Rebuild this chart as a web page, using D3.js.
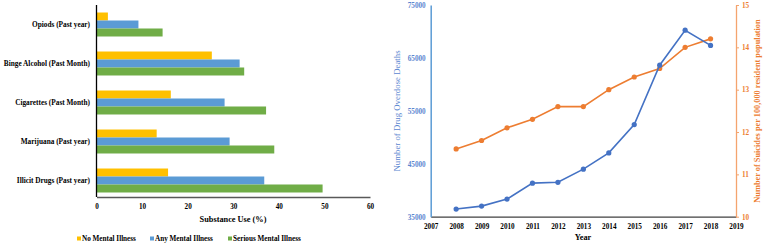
<!DOCTYPE html>
<html>
<head>
<meta charset="utf-8">
<script src="https://cdn.jsdelivr.net/npm/d3@7"></script>
<style>
  body { margin: 0; background: #fff; }
  text { font-family: "Liberation Serif", "Times New Roman", serif; font-weight: bold; }
</style>
</head>
<body>
<script>
// bar chart data
var substances = ["Opiods (Past year)", "Binge Alcohol (Past Month)", "Cigarettes (Past Month)", "Marijuana (Past year)", "Illicit Drugs (Past year)"];
var groups = ["No Mental Illness", "Any Mental Illness", "Serious Mental Illness"];
var noMI = [2.5, 25.3, 16.3, 13.2, 15.7];
var anyMI = [9.2, 31.4, 28.1, 29.2, 36.8];
var seriousMI = [14.5, 32.4, 37.2, 39.0, 49.6];
var useTicks = [0, 10, 20, 30, 40, 50, 60];

// line chart data
var years = [2008, 2009, 2010, 2011, 2012, 2013, 2014, 2015, 2016, 2017, 2018];
var deaths = [36450, 37004, 38329, 41340, 41502, 43982, 47055, 52404, 63632, 70237, 67367];
var suicideRate = [11.6, 11.8, 12.1, 12.3, 12.6, 12.6, 13.0, 13.3, 13.5, 14.0, 14.2];
var yearTicks = [2007, 2008, 2009, 2010, 2011, 2012, 2013, 2014, 2015, 2016, 2017, 2018, 2019];
var deathTicks = [35000, 45000, 55000, 65000, 75000];
var rateTicks = [10, 11, 12, 13, 14, 15];

var w = 764, h = 245;
var svg = d3.select("body").append("svg").attr("width", w).attr("height", h);

var barColors = ["#FFC000", "#5B9BD5", "#70AD47"];

// ---------- left: grouped horizontal bars ----------
var xScale = d3.scaleLinear().domain([0, 60]).range([96.5, 370]);
var yScale = d3.scaleBand().domain(substances).range([5, 200])
    .paddingInner(0.385).paddingOuter(0.1925);
var ySub = d3.scaleBand().domain(groups).range([0, yScale.bandwidth()]);

var rows = substances.map(function(s, i){
  return {name: s, vals: [noMI[i], anyMI[i], seriousMI[i]]};
});

var grp = svg.selectAll(".grp").data(rows).enter().append("g")
  .attr("class", "grp")
  .attr("transform", function(d){ return "translate(0," + yScale(d.name) + ")"; });

grp.selectAll("rect").data(function(d){ return d.vals.map(function(v, j){ return {g: groups[j], v: v, j: j}; }); })
  .enter().append("rect")
  .attr("x", xScale(0))
  .attr("y", function(d){ return ySub(d.g); })
  .attr("width", function(d){ return xScale(d.v) - xScale(0); })
  .attr("height", ySub.bandwidth())
  .attr("fill", function(d){ return barColors[d.j]; });

var xAxis = d3.axisBottom(xScale).tickValues(useTicks).tickSize(0).tickPadding(7);
var gx = svg.append("g").attr("transform", "translate(0,197)").call(xAxis);
gx.select(".domain").attr("stroke", "#595959").attr("stroke-width", 1.5);
gx.selectAll("text").attr("font-size", 7.2).attr("fill", "#000")
  .style("font-family", "Liberation Serif").style("font-weight", "bold");

svg.append("line").attr("x1", 96.5).attr("x2", 96.5).attr("y1", 5).attr("y2", 197)
  .attr("stroke", "#000").attr("stroke-width", 1.3);

svg.selectAll(".cat").data(substances).enter().append("text")
  .attr("class", "cat")
  .attr("x", 90)
  .attr("y", function(d){ return yScale(d) + yScale.bandwidth() / 2; })
  .attr("dy", "0.35em")
  .attr("text-anchor", "end")
  .attr("font-size", 7.3)
  .text(function(d){ return d; });

svg.append("text").attr("x", 233).attr("y", 222).attr("text-anchor", "middle")
  .attr("font-size", 8.3).text("Substance Use (%)");

var legX = [77, 150, 228];
var leg = svg.selectAll(".leg").data(groups).enter().append("g")
  .attr("class", "leg")
  .attr("transform", function(d, i){ return "translate(" + legX[i] + ",239)"; });
leg.append("rect").attr("x", 0).attr("y", -2.5).attr("width", 4).attr("height", 4)
  .attr("fill", function(d, i){ return barColors[i]; });
leg.append("text").attr("x", 5).attr("dy", "0.3em").attr("font-size", 7.2)
  .text(function(d){ return d; });

// ---------- right: dual axis line chart ----------
var xYear = d3.scaleLinear().domain([2007, 2019]).range([430.7, 736]);
var yDeaths = d3.scaleLinear().domain([35000, 75000]).range([216.7, 5]);
var yRate = d3.scaleLinear().domain([10, 15]).range([216.7, 5]);

var blue = "#4472C4", orange = "#ED7D31";

var bx = svg.append("g").attr("transform", "translate(0,216.7)")
  .call(d3.axisBottom(xYear).tickValues(yearTicks).tickFormat(d3.format("d")).tickSize(0).tickPadding(7));
bx.select(".domain").attr("stroke", "#404040").attr("stroke-width", 1.2);
bx.selectAll("text").attr("font-size", 7.2).attr("fill", "#000")
  .style("font-family", "Liberation Serif").style("font-weight", "bold");

var ly = svg.append("g").attr("transform", "translate(430.7,0)")
  .call(d3.axisLeft(yDeaths).tickValues(deathTicks).tickFormat(d3.format("d")).tickSize(0).tickPadding(5));
ly.select(".domain").attr("stroke", "#5B9BD5").attr("stroke-width", 1.5);
ly.selectAll("text").attr("font-size", 7.2).attr("fill", "#5B86D0")
  .style("font-family", "Liberation Serif").style("font-weight", "bold");

var ry = svg.append("g").attr("transform", "translate(736,0)")
  .call(d3.axisRight(yRate).tickValues(rateTicks).tickFormat(d3.format("d")).tickSize(3).tickSizeOuter(0).tickPadding(3));
ry.select(".domain").attr("stroke", "#F4A46E").attr("stroke-width", 1.3);
ry.selectAll(".tick line").attr("stroke", "#F4A46E");
ry.selectAll("text").attr("font-size", 7.2).attr("fill", orange)
  .style("font-family", "Liberation Serif").style("font-weight", "bold");

var lineDeaths = d3.line().x(function(d, i){ return xYear(years[i]); }).y(function(d){ return yDeaths(d); });
var lineRate = d3.line().x(function(d, i){ return xYear(years[i]); }).y(function(d){ return yRate(d); });

svg.append("path").datum(suicideRate).attr("d", lineRate)
  .attr("fill", "none").attr("stroke", orange).attr("stroke-width", 1.6);
svg.selectAll(".pr").data(suicideRate).enter().append("circle")
  .attr("class", "pr")
  .attr("cx", function(d, i){ return xYear(years[i]); })
  .attr("cy", function(d){ return yRate(d); })
  .attr("r", 2.6).attr("fill", orange);

svg.append("path").datum(deaths).attr("d", lineDeaths)
  .attr("fill", "none").attr("stroke", blue).attr("stroke-width", 1.6);
svg.selectAll(".pd").data(deaths).enter().append("circle")
  .attr("class", "pd")
  .attr("cx", function(d, i){ return xYear(years[i]); })
  .attr("cy", function(d){ return yDeaths(d); })
  .attr("r", 2.6).attr("fill", blue);

svg.append("text").attr("x", 583).attr("y", 240).attr("text-anchor", "middle")
  .attr("font-size", 8.3).text("Year");

svg.append("text")
  .attr("transform", "translate(400,111) rotate(-90)")
  .attr("text-anchor", "middle")
  .attr("font-size", 8.8)
  .style("font-weight", "normal")
  .attr("fill", "#5B86D0")
  .text("Number of Drug Overdose Deaths");

svg.append("text")
  .attr("transform", "translate(760,111) rotate(-90)")
  .attr("text-anchor", "middle")
  .attr("font-size", 8.3)
  .attr("fill", orange)
  .text("Number of Suicides per 100,000  resident population");
</script>
</body>
</html>
